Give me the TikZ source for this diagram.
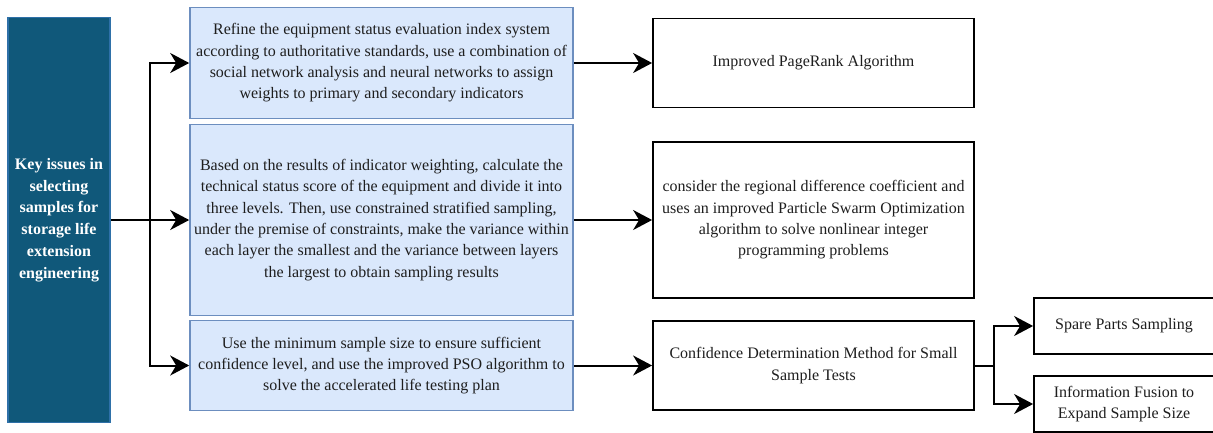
\documentclass[tikz,border=0pt]{standalone}
\usepackage{fontspec}
\setmainfont{Liberation Serif}
\usetikzlibrary{arrows.meta}
\definecolor{keyfill}{RGB}{16,88,122}
\definecolor{keydraw}{RGB}{46,112,168}
\definecolor{bluefill}{HTML}{DAE8FC}
\definecolor{bluedraw}{HTML}{6C8EBF}
\definecolor{txt}{RGB}{30,30,30}
\tikzset{
  keybox/.style={draw=keydraw, fill=keyfill, line width=1.5pt, inner sep=0pt, align=center,
    text=white, font=\fontsize{16}{21.7}\selectfont\bfseries},
  bluebox/.style={draw=bluedraw, fill=bluefill, line width=1.6pt, inner sep=0pt, align=center,
    text=txt, font=\fontsize{16}{21.3}\selectfont},
  plainbox/.style={draw=black, fill=white, line width=1.8pt, inner sep=0pt, align=center,
    text=txt, font=\fontsize{16}{21.3}\selectfont},
  arr/.style={draw=black, line width=2pt, -{Stealth[length=19pt,width=20pt,inset=6pt]}},
  conn/.style={draw=black, line width=2pt}
}
\begin{document}
\begin{tikzpicture}[x=1pt,y=-1pt]
\useasboundingbox (0,0) rectangle (1213,432);
\clip (0,0) rectangle (1213,432);
\fill[white] (0,0) rectangle (1213,432);

\node[keybox, minimum width=102pt, minimum height=405pt] (L) at (59,220)
  {Key issues in\\selecting\\samples for\\storage life\\extension\\engineering};

\node[bluebox, minimum width=383pt, minimum height=111pt] (B1) at (381.5,63)
  {Refine the equipment status evaluation index system\\according to authoritative standards, use a combination of\\social network analysis and neural networks to assign\\weights to primary and secondary indicators};
\node[bluebox, minimum width=383pt, minimum height=191pt] (B2) at (381.5,220)
  {Based on the results of indicator weighting, calculate the\\technical status score of the equipment and divide it into\\three levels. Then, use constrained stratified sampling,\\under the premise of constraints, make the variance within\\each layer the smallest and the variance between layers\\the largest to obtain sampling results};
\node[bluebox, minimum width=383pt, minimum height=90pt] (B3) at (381.5,365.5)
  {Use the minimum sample size to ensure sufficient\\confidence level, and use the improved PSO algorithm to\\solve the accelerated life testing plan};

\node[plainbox, minimum width=321pt, minimum height=89pt] (R1) at (813.5,63)
  {Improved PageRank Algorithm};
\node[plainbox, minimum width=321pt, minimum height=156pt] (R2) at (813.5,220)
  {consider the regional difference coefficient and\\uses an improved Particle Swarm Optimization\\algorithm to solve nonlinear integer\\programming problems};
\node[plainbox, minimum width=321pt, minimum height=89pt] (R3) at (813.5,365.5)
  {Confidence Determination Method for Small\\Sample Tests};

\node[plainbox, minimum width=180pt, minimum height=56pt] (S1) at (1124,326)
  {Spare Parts Sampling};
\node[plainbox, minimum width=180pt, minimum height=56pt] (S2) at (1124,404)
  {Information Fusion to\\Expand Sample Size};

\coordinate (jn) at (150,220);
\coordinate (fk) at (994,365.5);

\draw[arr] (L.east) -- (B2.west);
\draw[arr] (jn) |- (B1.west);
\draw[arr] (jn) |- (B3.west);

\draw[arr] (B1.east) -- (R1.west);
\draw[arr] (B2.east) -- (R2.west);
\draw[arr] (B3.east) -- (R3.west);

\draw[conn] (R3.east) -- (fk);
\draw[arr] (fk) |- (S1.west);
\draw[arr] (fk) |- (S2.west);
\end{tikzpicture}
\end{document}
